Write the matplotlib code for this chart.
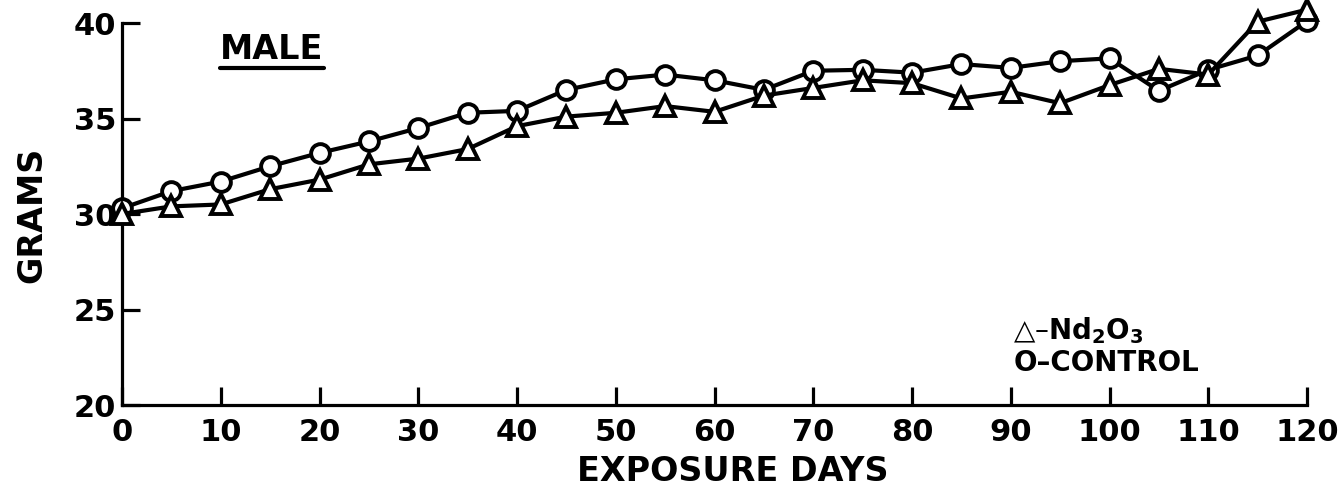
import matplotlib
matplotlib.use("Agg")
import matplotlib.pyplot as plt
from matplotlib.lines import Line2D

days = [0, 5, 10, 15, 20, 25, 30, 35, 40, 45, 50, 55, 60,
        65, 70, 75, 80, 85, 90, 95, 100, 105, 110, 115, 120]
control = [30.3, 31.2, 31.7, 32.5, 33.2, 33.8, 34.5, 35.3, 35.4, 36.5, 37.05, 37.3, 37.0,
           36.5, 37.5, 37.55, 37.4, 37.85, 37.65, 38.0, 38.15, 36.45, 37.55, 38.3, 40.1]
nd2o3 = [30.0, 30.4, 30.5, 31.3, 31.8, 32.6, 32.9, 33.4, 34.6, 35.1, 35.3, 35.65, 35.35,
         36.2, 36.6, 37.0, 36.85, 36.05, 36.4, 35.8, 36.75, 37.6, 37.3, 40.07, 40.7]
xticks = [0, 10, 20, 30, 40, 50, 60, 70, 80, 90, 100, 110, 120]
xticklabels = ["0", "10", "20", "30", "40", "50", "60", "70", "80", "90", "100", "110", "120"]
yticks = [20, 25, 30, 35, 40]
yticklabels = ["20", "25", "30", "35", "40"]

plt.rcParams['font.family'] = ['DejaVu Sans']
plt.rcParams['font.weight'] = 'bold'
plt.rcParams['mathtext.default'] = 'bf'

fig = plt.figure(figsize=(13.44, 4.97), dpi=100)
ax = fig.add_axes([0.0908, 0.1851, 0.8817, 0.7686])

ax.plot(days, control, color='black', lw=3.0, marker='o', ms=13.5,
        mfc='white', mec='black', mew=2.8, clip_on=False, zorder=3)
ax.plot(days, nd2o3, color='black', lw=3.0, marker='^', ms=15,
        mfc='white', mec='black', mew=2.8, clip_on=False, zorder=4)

ax.set_xlim(0, 120)
ax.set_ylim(20, 40)
ax.set_xticks(xticks)
ax.set_xticklabels(xticklabels)
ax.set_yticks(yticks)
ax.set_yticklabels(yticklabels)
for s in ['top', 'right']:
    ax.spines[s].set_visible(False)
for s in ['left', 'bottom']:
    ax.spines[s].set_linewidth(2.3)
ax.tick_params(axis='both', direction='in', length=13, width=2.3,
               labelsize=22, colors='black')
ax.tick_params(axis='y', pad=4)
ax.tick_params(axis='x', pad=9)
for lab in ax.get_xticklabels() + ax.get_yticklabels():
    lab.set_fontweight('bold')

ax.set_xlabel("EXPOSURE DAYS", fontsize=24, fontweight='bold')
ax.xaxis.label.set_va('center')
ax.xaxis.set_label_coords(0.515, -0.175)
ax.set_ylabel("GRAMS", fontsize=24, fontweight='bold')
ax.yaxis.label.set_va('center')
ax.yaxis.set_label_coords(-0.076, 0.497)

t = ax.text(0.1266, 0.9306, "MALE", transform=ax.transAxes, fontsize=24,
            fontweight='bold', ha='center', va='center')
fig.canvas.draw()
bb = t.get_window_extent().transformed(ax.transAxes.inverted())
ax.add_line(Line2D([bb.x0, bb.x1], [0.882, 0.882], transform=ax.transAxes,
                   color='black', lw=3.0, solid_capstyle='round', clip_on=False))

ax.text(0.752, 0.194, "\u25B3\u2013Nd$_2$O$_3$", transform=ax.transAxes,
        fontsize=20, fontweight='bold', ha='left', va='center')
ax.text(0.752, 0.110, "O\u2013CONTROL", transform=ax.transAxes,
        fontsize=20, fontweight='bold', ha='left', va='center')

fig.savefig("out.png", dpi=100)
